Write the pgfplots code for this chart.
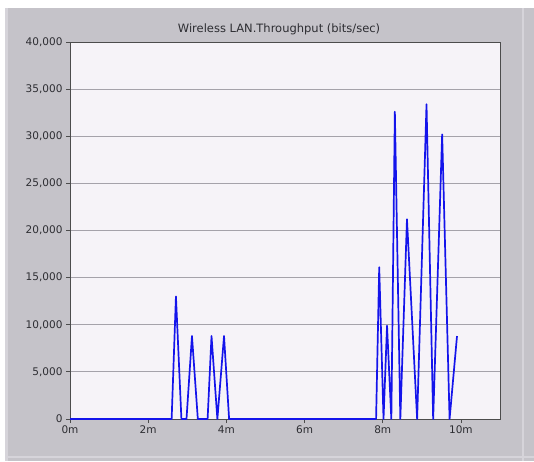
\documentclass[border=0pt]{standalone}
\usepackage{pgfplots}
\pgfplotsset{compat=1.18}
\usepackage{fontspec}
\setmainfont{DejaVu Sans}
\definecolor{panelgray}{RGB}{197,195,201}
\definecolor{panellight}{RGB}{214,212,218}
\definecolor{plotbg}{RGB}{246,243,248}
\definecolor{gridgray}{RGB}{165,162,170}
\definecolor{txtgray}{RGB}{45,45,50}
\definecolor{lineblue}{RGB}{20,20,235}
\begin{document}
\begin{tikzpicture}[x=1pt,y=1pt]
\fill[white] (0,0) rectangle (534,461);
\fill[panelgray] (5,0) rectangle (534,453);
\fill[panellight] (5,0) rectangle (8,453);
\fill[panellight] (522,0) rectangle (524,453);
\fill[panellight] (5,3) rectangle (534,5);
\begin{axis}[
  at={(70pt,42pt)}, anchor=south west,
  width=430pt, height=377pt, scale only axis,
  xmin=0, xmax=11, ymin=0, ymax=40000,
  axis background/.style={fill=plotbg},
  axis line style={draw=black!70, line width=0.9pt},
  xtick={0,2,4,6,8,10},
  xticklabels={0m,2m,4m,6m,8m,10m},
  ytick={0,5000,10000,15000,20000,25000,30000,35000,40000},
  yticklabels={0,{5,000},{10,000},{15,000},{20,000},{25,000},{30,000},{35,000},{40,000}},
  ymajorgrids, major grid style={draw=gridgray, line width=0.8pt},
  tick align=outside, major tick length=4pt,
  tick style={draw=black!70, line width=0.8pt},
  xtick pos=bottom, ytick pos=left,
  tick label style={font=\fontsize{10.5}{12}\selectfont, text=txtgray},
  xticklabel style={yshift=1pt},
  scaled y ticks=false,
  clip=false,
]
\addplot[lineblue, line width=1.7pt, line join=round] coordinates {
(0,0) (2.60,0) (2.71,13000) (2.85,0) (2.98,0) (3.12,8800) (3.27,0)
(3.52,0) (3.62,8800) (3.77,0) (3.94,8800) (4.07,0)
(7.83,0) (7.91,16100) (8.02,0) (8.11,9900) (8.22,0) (8.31,32600) (8.45,0)
(8.62,21200) (8.88,0) (9.12,33400) (9.29,0) (9.52,30200) (9.71,0) (9.90,8800)
};
\end{axis}
\node[font=\fontsize{11.5}{13}\selectfont, text=txtgray] at (279,432) {Wireless LAN.Throughput (bits/sec)};
\end{tikzpicture}
\end{document}
